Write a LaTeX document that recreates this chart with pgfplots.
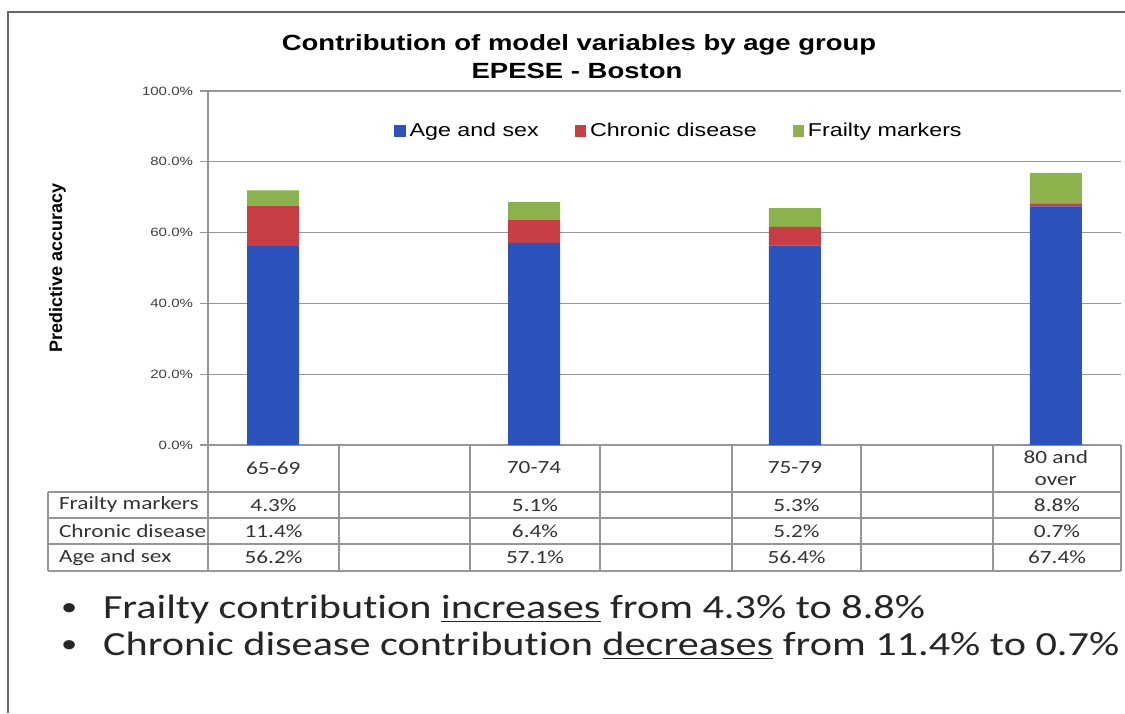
\documentclass[border=0pt]{standalone}
\usepackage{pgfplots}
\pgfplotsset{compat=1.18}
\usepackage{fontspec}
\setmainfont{Liberation Sans}[FakeStretch=1.25]
\newfontfamily\calibri{Carlito}[FakeStretch=1.25,Ligatures={NoCommon,NoRare,NoContextual}]
\newfontfamily\arialplain{Liberation Sans}
\definecolor{cblue}{RGB}{44,82,190}
\definecolor{cred}{RGB}{200,62,68}
\definecolor{cgreen}{RGB}{140,178,78}
\definecolor{tgray}{RGB}{150,150,150}
\begin{document}
\begin{tikzpicture}
\path[use as bounding box] (0pt,0pt) rectangle (562.5pt,-356.5pt);
\begin{scope}[x=0.5pt,y=-0.5pt]
\fill[white] (0,0) rectangle (1125,713);
\draw[gray!80!black, line width=1.1pt] (8,713) -- (8,12) -- (1125,12);
\node[font=\bfseries\fontsize{11}{13}\selectfont] at (579,45) {Contribution of model variables by age group};
\node[font=\bfseries\fontsize{11}{13}\selectfont] at (577,71) {EPESE - Boston};
\end{scope}
\begin{axis}[
  at={(104pt,-222.5pt)}, anchor=south west,
  scale only axis, width=456.5pt, height=177pt,
  ybar stacked, bar width=26pt,
  xmin=-0.5, xmax=6.5, ymin=0, ymax=100,
  axis x line*=bottom, axis y line*=left,
  axis line style={draw=tgray, line width=0.6pt},
  ytick={0,20,40,60,80,100},
  ymajorgrids, grid style={draw=tgray, line width=0.6pt},
  /pgf/number format/assume math mode=true,
  yticklabel={\pgfmathprintnumber[fixed,fixed zerofill,precision=1]{\tick}\%},
  yticklabel style={font=\fontsize{6}{7}\selectfont, text=black!75},
  ytick style={draw=tgray, line width=0.6pt},
  major tick length=4pt, tick align=outside,
  xtick={0,1,2,3,4,5,6},
  xticklabels={65-69,,70-74,,75-79,,{80 and\\over}},
  x tick style={draw=none},
  xticklabel style={anchor=center, yshift=-7.5pt, align=center, text=black!80,
    font=\calibri\fontsize{9.3}{11}\selectfont},
  ylabel={Predictive accuracy},
  ylabel style={at={(axis description cs:-0.165,0.5)}, anchor=center,
    font=\arialplain\bfseries\fontsize{9}{10}\selectfont},
  legend style={at={(0.517,0.887)}, anchor=center, draw=none, fill=none,
    legend columns=-1, font=\fontsize{9.3}{11}\selectfont,
    /tikz/every even column/.append style={column sep=16pt}},
  legend image code/.code={\fill[#1,draw=none] (0pt,-2.8pt) rectangle (5.6pt,2.8pt);},
]
\addplot[fill=cblue, draw=none] coordinates {(0,56.2) (2,57.1) (4,56.4) (6,67.4)};
\addplot[fill=cred, draw=none] coordinates {(0,11.4) (2,6.4) (4,5.2) (6,0.7)};
\addplot[fill=cgreen, draw=none] coordinates {(0,4.3) (2,5.1) (4,5.3) (6,8.8)};
\legend{Age and sex, Chronic disease, Frailty markers}
\end{axis}
\begin{scope}[x=0.5pt,y=-0.5pt]
\begin{scope}[draw=tgray, line width=0.6pt]
\foreach \xx in {208,339,470,600,732,861,993,1121} \draw (\xx,445) -- (\xx,571);
\foreach \yy in {492,518,544,571} \draw (48,\yy) -- (1121,\yy);
\draw (48,492) -- (48,571);
\end{scope}
\begin{scope}[font=\calibri\fontsize{9.3}{11}\selectfont, text=black!80]
\node[anchor=west] at (52,505) {Frailty markers};
\node[anchor=west] at (52,531) {Chronic disease};
\node[anchor=west] at (52,557.5) {Age and sex};
\node at (273.5,505) {4.3\%};
\node at (535,505) {5.1\%};
\node at (796.5,505) {5.3\%};
\node at (1057,505) {8.8\%};
\node at (273.5,531) {11.4\%};
\node at (535,531) {6.4\%};
\node at (796.5,531) {5.2\%};
\node at (1057,531) {0.7\%};
\node at (273.5,557.5) {56.2\%};
\node at (535,557.5) {57.1\%};
\node at (796.5,557.5) {56.4\%};
\node at (1057,557.5) {67.4\%};
\end{scope}
\begin{scope}[font=\calibri\fontsize{16.9}{20}\selectfont, text=black!85]
\node[anchor=base west, font=\calibri\fontsize{13}{15}\selectfont] at (54,615) {\textbullet};
\node[anchor=base west] at (96,618) {Frailty contribution \underline{increases} from 4.3\% to 8.8\%};
\node[anchor=base west, font=\calibri\fontsize{13}{15}\selectfont] at (54,652) {\textbullet};
\node[anchor=base west] at (96,655) {Chronic disease contribution \underline{decreases} from 11.4\% to 0.7\%};
\end{scope}
\end{scope}
\end{tikzpicture}
\end{document}
